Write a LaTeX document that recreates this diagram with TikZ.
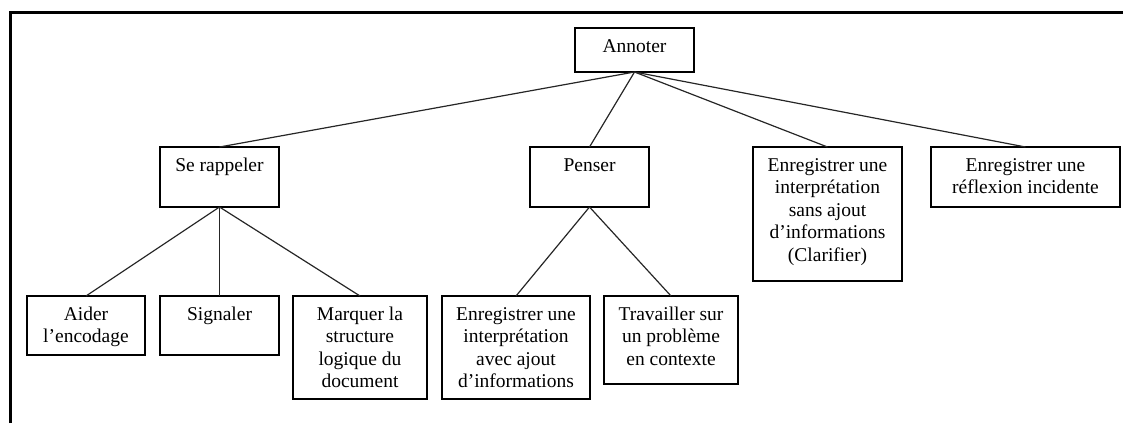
\documentclass[tikz,border=0pt]{standalone}
\usepackage{fontspec}
\setmainfont{Liberation Serif}
\newcommand\bt[3]{\parbox[c][#2][t]{#1}{\centering\rule{0pt}{24pt}#3}}
\tikzset{
  bx/.style={draw=black, line width=1.2pt, inner sep=0pt, outer sep=0pt, fill=white},
  conn/.style={draw=black!85, line width=1.2pt},
  frame/.style={draw=black, line width=3pt}
}
\begin{document}
\begin{tikzpicture}[x=1pt,y=-1pt,font=\fontsize{19.5}{22.5}\selectfont]
\useasboundingbox (0,0) rectangle (1123,423);
\coordinate (fa) at (10,423);
\coordinate (fb) at (10,12);
\coordinate (fc) at (1123,12);
\draw[frame] (fa) -- (fb) -- (fc);

\node[bx] (annoter) at (634.5,50) {\bt{119pt}{44pt}{Annoter}};
\node[bx] (rappeler) at (219.5,177) {\bt{119pt}{60pt}{Se rappeler}};
\node[bx] (penser) at (589.5,177) {\bt{119pt}{60pt}{Penser}};
\node[bx] (sans) at (827.5,214) {\bt{149pt}{134pt}{Enregistrer une\\ interprétation\\ sans ajout\\ d’informations\\ (Clarifier)}};
\node[bx] (reflexion) at (1025.5,177) {\bt{189pt}{60pt}{Enregistrer une\\ réflexion incidente}};
\node[bx] (aider) at (86,325.5) {\bt{118pt}{59pt}{Aider\\ l’encodage}};
\node[bx] (signaler) at (219.5,325.5) {\bt{119pt}{59pt}{Signaler}};
\node[bx] (marquer) at (360,347.5) {\bt{134pt}{103pt}{Marquer la\\ structure\\ logique du\\ document}};
\node[bx] (avec) at (516,347.5) {\bt{148pt}{103pt}{Enregistrer une\\ interprétation\\ avec ajout\\ d’informations}};
\node[bx] (travailler) at (671,340) {\bt{134pt}{88pt}{Travailler sur\\ un problème\\ en contexte}};

\draw[conn] (annoter.south) -- (rappeler.north);
\draw[conn] (annoter.south) -- (penser.north);
\draw[conn] (annoter.south) -- (sans.north);
\draw[conn] (annoter.south) -- (reflexion.north);
\draw[conn] (rappeler.south) -- (aider.north);
\draw[conn] (rappeler.south) -- (signaler.north);
\draw[conn] (rappeler.south) -- (marquer.north);
\draw[conn] (penser.south) -- (avec.north);
\draw[conn] (penser.south) -- (travailler.north);
\end{tikzpicture}
\end{document}
